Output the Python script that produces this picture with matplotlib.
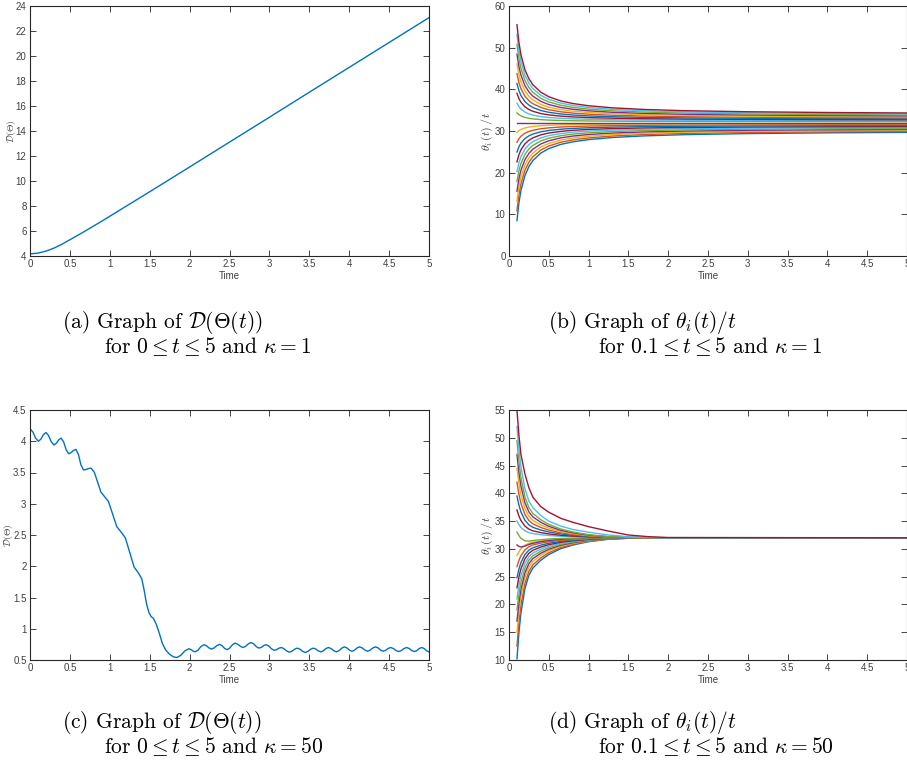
import matplotlib
matplotlib.use("Agg")
import matplotlib.pyplot as plt
from matplotlib.ticker import FixedLocator, FuncFormatter

plt.rcParams['mathtext.fontset'] = 'cm'
plt.rcParams['axes.unicode_minus'] = False
plt.rcParams['font.family'] = ['Liberation Sans', 'DejaVu Sans']

# MATLAB default line colour order
LINE_COLORS = ['#0072BD', '#D95319', '#EDB120', '#7E2F8E', '#77AC30', '#4DBEEE', '#A2142F']
AXIS_COLOR = '#262626'

# ---- (a) diameter D(Theta(t)), kappa = 1 ----
time_a = [0.0, 0.1, 0.2, 0.3, 0.4, 0.5, 0.6, 0.7, 0.8, 0.9, 1.0, 1.25, 1.5, 1.75,
          2.0, 2.5, 3.0, 3.5, 4.0, 4.5, 5.0]
diam_a = [4.17, 4.23, 4.39, 4.63, 4.94, 5.30, 5.66, 6.03, 6.41, 6.79, 7.18, 8.16, 9.14, 10.13,
          11.12, 13.11, 15.10, 17.10, 19.09, 21.08, 23.07]

# ---- (c) diameter D(Theta(t)), kappa = 50 ----
time_c = [0.000, 0.035, 0.070, 0.105, 0.137, 0.168, 0.200, 0.233, 0.267, 0.300,
          0.330, 0.360, 0.390, 0.422, 0.453, 0.485, 0.515, 0.545, 0.575, 0.607,
          0.638, 0.670, 0.702, 0.733, 0.765, 0.806, 0.848, 0.889, 0.930, 0.983,
          1.035, 1.088, 1.140, 1.195, 1.250, 1.305, 1.360, 1.400, 1.430, 1.460,
          1.490, 1.520, 1.545, 1.580, 1.620, 1.660, 1.700, 1.750, 1.800, 1.840,
          1.890, 1.940, 1.990, 2.017, 2.043, 2.070, 2.107, 2.143, 2.180, 2.212,
          2.243, 2.275, 2.308, 2.342, 2.375, 2.407, 2.438, 2.470, 2.503, 2.537,
          2.570, 2.603, 2.637, 2.670, 2.703, 2.737, 2.770, 2.803, 2.837, 2.870,
          2.900, 2.930, 2.960, 2.993, 3.027, 3.060, 3.090, 3.120, 3.150, 3.183,
          3.217, 3.250, 3.283, 3.317, 3.350, 3.383, 3.417, 3.450, 3.483, 3.517,
          3.550, 3.582, 3.613, 3.645, 3.677, 3.708, 3.740, 3.773, 3.807, 3.840,
          3.873, 3.907, 3.940, 3.972, 4.003, 4.035, 4.067, 4.098, 4.130, 4.163,
          4.197, 4.230, 4.263, 4.297, 4.330, 4.362, 4.393, 4.425, 4.457, 4.488,
          4.520, 4.553, 4.587, 4.620, 4.653, 4.687, 4.720, 4.752, 4.783, 4.815,
          4.847, 4.878, 4.910, 4.940, 4.970, 5.000]
diam_c = [4.200, 4.150, 4.050, 4.000, 4.035, 4.105, 4.140, 4.090, 3.990, 3.940,
          3.968, 4.023, 4.050, 3.988, 3.863, 3.800, 3.818, 3.853, 3.870, 3.788,
          3.623, 3.540, 3.548, 3.563, 3.570, 3.504, 3.345, 3.186, 3.120, 3.037,
          2.835, 2.633, 2.550, 2.454, 2.220, 1.986, 1.890, 1.800, 1.620, 1.400,
          1.260, 1.190, 1.170, 1.080, 0.930, 0.760, 0.660, 0.590, 0.550, 0.540,
          0.575, 0.645, 0.680, 0.668, 0.643, 0.630, 0.659, 0.716, 0.745, 0.728,
          0.693, 0.675, 0.694, 0.731, 0.750, 0.729, 0.686, 0.665, 0.691, 0.744,
          0.770, 0.753, 0.718, 0.700, 0.720, 0.760, 0.780, 0.758, 0.713, 0.690,
          0.704, 0.731, 0.745, 0.723, 0.678, 0.655, 0.666, 0.689, 0.700, 0.681,
          0.644, 0.625, 0.641, 0.674, 0.690, 0.673, 0.638, 0.620, 0.638, 0.673,
          0.690, 0.675, 0.645, 0.630, 0.648, 0.683, 0.700, 0.683, 0.648, 0.630,
          0.650, 0.690, 0.710, 0.693, 0.658, 0.640, 0.658, 0.693, 0.710, 0.693,
          0.658, 0.640, 0.658, 0.693, 0.710, 0.693, 0.658, 0.640, 0.655, 0.685,
          0.700, 0.684, 0.651, 0.635, 0.651, 0.684, 0.700, 0.684, 0.651, 0.635,
          0.651, 0.684, 0.700, 0.683, 0.648, 0.630]

# ---- (b) theta_i(t)/t, kappa = 1 (one row per oscillator, bottom to top) ----
time_b = [0.1, 0.125, 0.15, 0.2, 0.25, 0.3, 0.4, 0.5, 0.65, 0.8, 1.0, 1.3, 1.7, 2.2, 3.0, 4.0, 5.0]
ratio_b = [
    [8.50, 12.82, 15.70, 19.30, 21.46, 22.90, 24.70, 25.78, 26.78, 27.40, 27.94, 28.44, 28.83, 29.12, 29.38, 29.56, 29.67],
    [10.85, 14.74, 17.33, 20.57, 22.51, 23.81, 25.43, 26.40, 27.30, 27.86, 28.35, 28.80, 29.15, 29.41, 29.64, 29.80, 29.90],
    [13.20, 16.66, 18.96, 21.84, 23.57, 24.72, 26.16, 27.02, 27.82, 28.32, 28.75, 29.15, 29.46, 29.70, 29.90, 30.05, 30.13],
    [15.55, 18.57, 20.59, 23.11, 24.62, 25.63, 26.89, 27.65, 28.35, 28.78, 29.16, 29.51, 29.78, 29.98, 30.17, 30.29, 30.37],
    [17.90, 20.49, 22.22, 24.38, 25.68, 26.54, 27.62, 28.27, 28.87, 29.24, 29.56, 29.86, 30.10, 30.27, 30.43, 30.54, 30.60],
    [20.25, 22.41, 23.85, 25.65, 26.73, 27.45, 28.35, 28.89, 29.39, 29.70, 29.97, 30.22, 30.42, 30.56, 30.69, 30.78, 30.83],
    [22.60, 24.33, 25.48, 26.92, 27.78, 28.36, 29.08, 29.51, 29.91, 30.16, 30.38, 30.58, 30.73, 30.85, 30.95, 31.02, 31.07],
    [24.95, 26.25, 27.11, 28.19, 28.84, 29.27, 29.81, 30.13, 30.43, 30.62, 30.78, 30.93, 31.05, 31.14, 31.21, 31.27, 31.30],
    [27.30, 28.16, 28.74, 29.46, 29.89, 30.18, 30.54, 30.76, 30.96, 31.08, 31.19, 31.29, 31.37, 31.42, 31.48, 31.51, 31.53],
    [29.65, 30.08, 30.37, 30.73, 30.95, 31.09, 31.27, 31.38, 31.48, 31.54, 31.59, 31.64, 31.68, 31.71, 31.74, 31.76, 31.77],
    [32.00, 32.00, 32.00, 32.00, 32.00, 32.00, 32.00, 32.00, 32.00, 32.00, 32.00, 32.00, 32.00, 32.00, 32.00, 32.00, 32.00],
    [34.35, 33.92, 33.63, 33.27, 33.05, 32.91, 32.73, 32.62, 32.52, 32.46, 32.41, 32.36, 32.32, 32.29, 32.26, 32.24, 32.23],
    [36.70, 35.84, 35.26, 34.54, 34.11, 33.82, 33.46, 33.24, 33.04, 32.92, 32.81, 32.71, 32.63, 32.58, 32.52, 32.49, 32.47],
    [39.05, 37.75, 36.89, 35.81, 35.16, 34.73, 34.19, 33.87, 33.57, 33.38, 33.22, 33.07, 32.95, 32.86, 32.79, 32.73, 32.70],
    [41.40, 39.67, 38.52, 37.08, 36.22, 35.64, 34.92, 34.49, 34.09, 33.84, 33.62, 33.42, 33.27, 33.15, 33.05, 32.98, 32.93],
    [43.75, 41.59, 40.15, 38.35, 37.27, 36.55, 35.65, 35.11, 34.61, 34.30, 34.03, 33.78, 33.59, 33.44, 33.31, 33.22, 33.17],
    [46.10, 43.51, 41.78, 39.62, 38.32, 37.46, 36.38, 35.73, 35.13, 34.76, 34.44, 34.14, 33.90, 33.73, 33.57, 33.46, 33.40],
    [48.45, 45.43, 43.41, 40.89, 39.38, 38.37, 37.11, 36.35, 35.65, 35.22, 34.84, 34.49, 34.22, 34.02, 33.83, 33.71, 33.63],
    [50.80, 47.34, 45.04, 42.16, 40.43, 39.28, 37.84, 36.98, 36.18, 35.68, 35.25, 34.85, 34.54, 34.30, 34.10, 33.95, 33.87],
    [53.15, 49.26, 46.67, 43.43, 41.49, 40.19, 38.57, 37.60, 36.70, 36.14, 35.65, 35.20, 34.85, 34.59, 34.36, 34.20, 34.10],
    [55.50, 51.18, 48.30, 44.70, 42.54, 41.10, 39.30, 38.22, 37.22, 36.60, 36.06, 35.56, 35.17, 34.88, 34.62, 34.44, 34.33],
]

# ---- (d) theta_i(t)/t, kappa = 50 ----
time_d = [0.1, 0.125, 0.15, 0.2, 0.25, 0.3, 0.4, 0.5, 0.65, 0.8, 1.0, 1.25, 1.5, 1.75, 2.0, 5.0]
ratio_d = [
    [10.20, 15.00, 18.48, 22.84, 25.24, 26.55, 27.97, 28.99, 30.04, 30.69, 31.30, 31.74, 31.91, 32.00, 32.00, 32.00],
    [12.50, 16.79, 19.91, 23.81, 25.95, 27.12, 28.39, 29.31, 30.24, 30.83, 31.38, 31.77, 31.92, 32.00, 32.00, 32.00],
    [15.00, 18.74, 21.46, 24.86, 26.73, 27.75, 28.85, 29.65, 30.47, 30.98, 31.46, 31.80, 31.93, 32.00, 32.00, 32.00],
    [17.00, 20.30, 22.70, 25.70, 27.35, 28.25, 29.22, 29.93, 30.65, 31.10, 31.52, 31.82, 31.94, 32.00, 32.00, 32.00],
    [19.00, 21.86, 23.94, 26.54, 27.97, 28.75, 29.59, 30.21, 30.83, 31.22, 31.58, 31.84, 31.95, 32.00, 32.00, 32.00],
    [21.00, 23.42, 25.18, 27.38, 28.59, 29.25, 29.96, 30.48, 31.01, 31.34, 31.65, 31.87, 31.96, 32.00, 32.00, 32.00],
    [23.00, 24.98, 26.42, 28.22, 29.21, 29.75, 30.33, 30.76, 31.19, 31.46, 31.71, 31.89, 31.96, 32.00, 32.00, 32.00],
    [24.80, 26.38, 27.54, 28.98, 29.77, 30.20, 30.67, 31.01, 31.35, 31.57, 31.77, 31.91, 31.97, 32.00, 32.00, 32.00],
    [26.80, 27.94, 28.78, 29.82, 30.39, 30.70, 31.04, 31.28, 31.53, 31.69, 31.83, 31.94, 31.98, 32.00, 32.00, 32.00],
    [28.80, 29.50, 30.02, 30.66, 31.01, 31.20, 31.41, 31.56, 31.71, 31.81, 31.90, 31.96, 31.99, 32.00, 32.00, 32.00],
    [30.70, 30.45, 30.35, 30.50, 30.80, 31.00, 31.30, 31.50, 31.72, 31.84, 31.93, 31.98, 32.00, 32.00, 32.00, 32.00],
    [33.00, 32.40, 31.90, 31.45, 31.40, 31.50, 31.65, 31.78, 31.88, 31.93, 31.97, 31.99, 32.00, 32.00, 32.00, 32.00],
    [35.00, 34.34, 33.86, 33.26, 32.93, 32.75, 32.56, 32.41, 32.27, 32.18, 32.10, 32.04, 32.01, 32.00, 32.00, 32.00],
    [37.00, 35.90, 35.10, 34.10, 33.55, 33.25, 32.93, 32.69, 32.45, 32.30, 32.16, 32.06, 32.02, 32.00, 32.00, 32.00],
    [39.50, 37.85, 36.65, 35.15, 34.33, 33.88, 33.39, 33.04, 32.68, 32.45, 32.24, 32.09, 32.03, 32.00, 32.00, 32.00],
    [42.00, 39.80, 38.20, 36.20, 35.10, 34.50, 33.85, 33.38, 32.90, 32.60, 32.32, 32.12, 32.04, 32.00, 32.00, 32.00],
    [44.50, 41.75, 39.75, 37.25, 35.88, 35.13, 34.31, 33.73, 33.13, 32.75, 32.40, 32.15, 32.05, 32.00, 32.00, 32.00],
    [47.00, 43.70, 41.30, 38.30, 36.65, 35.75, 34.78, 34.07, 33.35, 32.90, 32.48, 32.18, 32.06, 32.00, 32.00, 32.00],
    [49.50, 45.65, 42.85, 39.35, 37.43, 36.38, 35.24, 34.42, 33.58, 33.05, 32.56, 32.21, 32.07, 32.00, 32.00, 32.00],
    [52.00, 47.80, 44.80, 40.80, 38.60, 37.40, 36.00, 35.00, 34.10, 33.50, 33.00, 32.50, 32.20, 32.06, 32.00, 32.00],
    [55.00, 50.40, 47.00, 43.50, 41.00, 39.30, 37.60, 36.60, 35.50, 34.80, 34.00, 33.20, 32.50, 32.20, 32.05, 32.00],
]

# ---- axes ticks ----
xticks = [0, 0.5, 1, 1.5, 2, 2.5, 3, 3.5, 4, 4.5, 5]
yticks_a = [4, 6, 8, 10, 12, 14, 16, 18, 20, 22, 24]
yticks_b = [0, 10, 20, 30, 40, 50, 60]
yticks_c = [0.5, 1, 1.5, 2, 2.5, 3, 3.5, 4, 4.5]
yticks_d = [10, 15, 20, 25, 30, 35, 40, 45, 50, 55]

captions = [
    ("(a) Graph of $\\mathcal{D}(\\Theta(t))$", "for $0 \\leq t \\leq 5$ and $\\kappa = 1$"),
    ("(b) Graph of $\\theta_i(t)/t$", "for $0.1 \\leq t \\leq 5$ and $\\kappa = 1$"),
    ("(c) Graph of $\\mathcal{D}(\\Theta(t))$", "for $0 \\leq t \\leq 5$ and $\\kappa = 50$"),
    ("(d) Graph of $\\theta_i(t)/t$", "for $0.1 \\leq t \\leq 5$ and $\\kappa = 50$"),
]

W, H = 907, 764
fig = plt.figure(figsize=(W / 100, H / 100), dpi=100)
fig.patch.set_facecolor('white')


def px_axes(left, top, width, height):
    return fig.add_axes([left / W, 1 - (top + height) / H, width / W, height / H])


ax_a = px_axes(30, 6, 399, 250)
ax_b = px_axes(509, 6, 398, 250)
ax_c = px_axes(30, 410, 399, 250)
ax_d = px_axes(509, 410, 398, 250)

fmt = FuncFormatter(lambda v, _: f"{v:g}")


def style(ax, yticks, ylabel, ylabel_size, ylabel_x_px):
    ax.set_xlim(0, 5)
    ax.set_ylim(yticks[0], yticks[-1])
    ax.xaxis.set_major_locator(FixedLocator(xticks))
    ax.yaxis.set_major_locator(FixedLocator(yticks))
    ax.xaxis.set_major_formatter(fmt)
    ax.yaxis.set_major_formatter(fmt)
    ax.tick_params(direction='in', length=4, width=0.6, top=True, right=True,
                   labelsize=7, colors=AXIS_COLOR, labelcolor='#404040', pad=2.5)
    for sp in ax.spines.values():
        sp.set_color(AXIS_COLOR)
        sp.set_linewidth(0.8)
    ax.set_xlabel('Time', fontsize=7, color='#404040', labelpad=1)
    ax.set_ylabel(ylabel, fontsize=ylabel_size, color='#404040', va='center')
    # label centre given as a pixel offset left of the axes
    ax.yaxis.set_label_coords(-ylabel_x_px / (ax.get_position().width * W), 0.5)


ax_a.plot(time_a, diam_a, color=LINE_COLORS[0], lw=1.0)
style(ax_a, yticks_a, '$\\mathcal{D}(\\Theta)$', 7, 19)

for i, row in enumerate(ratio_b):
    ax_b.plot(time_b, row, color=LINE_COLORS[i % 7], lw=1.0)
style(ax_b, yticks_b, '$\\theta_i\\,(t)\\,/\\,t$', 8.5, 22)

ax_c.plot(time_c, diam_c, color=LINE_COLORS[0], lw=1.0)
style(ax_c, yticks_c, '$\\mathcal{D}(\\Theta)$', 7, 22)

for i, row in enumerate(ratio_d):
    ax_d.plot(time_d, row, color=LINE_COLORS[i % 7], lw=1.0)
style(ax_d, yticks_d, '$\\theta_i\\,(t)\\,/\\,t$', 8.5, 22)

# sub-figure captions
cap_pos = [(62, 104, 322), (548, 598, 322), (62, 104, 722), (548, 598, 722)]
for (l1, l2), (x1, x2, y1) in zip(captions, cap_pos):
    fig.text(x1 / W, 1 - y1 / H, l1, fontsize=15.5, family='cmr10', va='center', ha='left')
    fig.text(x2 / W, 1 - (y1 + 25) / H, l2, fontsize=15.5, family='cmr10', va='center', ha='left')

fig.savefig('out.png', dpi=100)
